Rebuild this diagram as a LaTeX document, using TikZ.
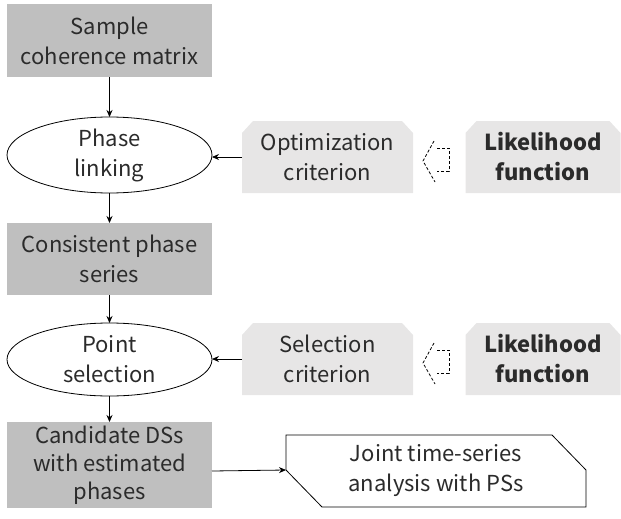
\documentclass[tikz,border=0pt]{standalone}
\usepackage{fontspec}
\setmainfont{Noto Sans CJK SC}
\usetikzlibrary{shapes.geometric,arrows.meta,calc,backgrounds}
\definecolor{darkbox}{HTML}{BFBFBF}
\definecolor{lightbox}{HTML}{E7E6E6}
\definecolor{txt}{HTML}{2B2B2B}
\tikzset{
  base/.style={align=center,text=txt,font=\fontsize{22}{30}\selectfont,inner sep=0pt,outer sep=0pt},
  darkrect/.style={base,rectangle,fill=darkbox,minimum width=205pt},
  oval/.style={base,ellipse,draw=black,line width=0.8pt,fill=white,minimum width=205pt},
  crit/.style={base,rectangle,minimum height=72pt},
  boldtext/.style={font=\fontsize{22}{30}\selectfont\bfseries},
  tighttext/.style={font=\fontsize{22}{28}\selectfont},
  jointbox/.style={base,rectangle,minimum width=300pt,minimum height=72pt},
  arr/.style={-{Stealth[length=7pt,width=6pt]},line width=0.8pt,black},
  dashline/.style={dashed,dash pattern=on 3pt off 2pt,line width=0.8pt,black},
  critfill/.style={fill=lightbox},
  jointline/.style={draw=black,line width=0.8pt,fill=white}
}
\newcommand{\critshape}[1]{%
  \fill[critfill] (#1.south west) -- ($(#1.north west)+(0,12)$) -- ($(#1.north west)+(11,0)$)
    -- ($(#1.north east)+(-11,0)$) -- ($(#1.north east)+(0,12)$) -- (#1.south east) -- cycle;}
\begin{document}
\begin{tikzpicture}[x=1pt,y=-1pt]
\useasboundingbox (0,0) rectangle (621,519);
\node[darkrect,minimum height=73pt] (b1) at (109.5,40.5) {Sample\\coherence matrix};
\node[oval,minimum height=76pt] (e1) at (109.5,155) {Phase\\linking};
\node[darkrect,minimum height=72pt] (b2) at (109.5,259) {Consistent phase\\series};
\node[oval,minimum height=73pt] (e2) at (109.5,359.5) {Point\\selection};
\node[darkrect,tighttext,minimum height=86pt] (b3) at (109.5,465) {Candidate DSs\\with estimated\\phases};
\node[crit,minimum width=171pt] (opt) at (327.5,157) {Optimization\\criterion};
\node[crit,boldtext,minimum width=155pt] (lik1) at (543,157) {Likelihood\\function};
\node[crit,minimum width=171pt] (sel) at (327.5,359) {Selection\\criterion};
\node[crit,boldtext,minimum width=155pt] (lik2) at (543,359) {Likelihood\\function};
\node[jointbox] (jt) at (436,471) {Joint time-series\\analysis with PSs};
\begin{scope}[on background layer]
  \critshape{opt}
  \critshape{lik1}
  \critshape{sel}
  \critshape{lik2}
  \path[jointline] (jt.north west) -- ($(jt.north east)+(-34,0)$) -- ($(jt.north east)+(0,35)$)
    -- (jt.south east) -- ($(jt.south west)+(36,0)$) -- ($(jt.south west)+(0,-37)$) -- cycle;
\end{scope}
\draw[arr] (b1.south) -- (e1.north);
\draw[arr] (e1.south) -- (b2.north);
\draw[arr] (b2.south) -- (e2.north);
\draw[arr] (e2.south) -- (b3.north);
\draw[arr] (opt.west) -- (opt.west -| e1.east);
\draw[arr] (sel.west) -- (sel.west -| e2.east);
\draw[arr] (jt.west -| b3.east) -- ($(jt.west)+(0,-1)$);
% dashed cycle glyphs between criterion and likelihood boxes
\draw[dashline] (434,141) -- (423,161) -- (435,182);
\draw[dashline] (437,148) -- (449,148) -- (449,171) -- (437,171);
\draw[dashline] (434,343) -- (423,363) -- (435,384);
\draw[dashline] (437,350) -- (449,350) -- (449,373) -- (437,373);
\end{tikzpicture}
\end{document}
